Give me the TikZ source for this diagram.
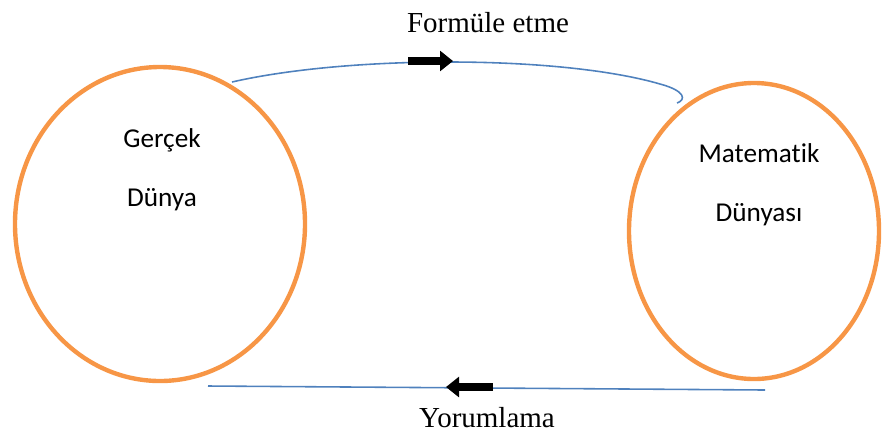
\documentclass[tikz,border=0pt]{standalone}
\usepackage{fontspec}
\setmainfont{Liberation Serif}
\newfontfamily\calibri[Ligatures = NoCommon]{Carlito}
\usepackage{xcolor}
\usepackage{tikz}
\usetikzlibrary{arrows.meta}
\definecolor{worldorange}{HTML}{F79646}
\definecolor{linkblue}{HTML}{4F81BD}

\begin{document}
\begin{tikzpicture}[x = .02cm, y = -.02cm, >=latex]
\tikzset{
  world/.style = {draw = worldorange, line width = 2.5pt},
  link/.style = {draw = linkblue, line width = .9pt},
  blockarrow/.style = {line width = 5pt, -{Triangle[length = 7.4pt, width = 11.3pt]}},
  inside/.style = {font = \calibri\fontsize{15.5}{18}\selectfont},
  outside/.style = {font = \fontsize{16.5}{20}\selectfont}
}
\useasboundingbox (0, 0) rectangle (882, 434);

% top link: real world -> mathematics
\coordinate (f0) at (232, 82);
\coordinate (f1) at (660, 84);
\coordinate (f2) at (677, 103);
\draw [link] (f0) .. controls (350, 55) and (560, 55) .. (f1)
  .. controls (686, 91) and (686, 100) .. (f2);

% bottom link: mathematics -> real world
\coordinate (y0) at (765, 390);
\coordinate (y1) at (208, 386);
\draw [link] (y0) -- (y1);

\draw [world] (160, 224) ellipse [x radius = 145, y radius = 157];
\draw [world] (754, 231) ellipse [x radius = 125, y radius = 148];

\coordinate (fa) at (408, 61);
\coordinate (fb) at (453, 61);
\draw [blockarrow] (fa) -- (fb);
\coordinate (ya) at (493, 387);
\coordinate (yb) at (446, 387);
\draw [blockarrow] (ya) -- (yb);

\node [outside] (formule) at (488, 23) {Formüle etme};
\node [outside] (yorum) at (487, 418) {Yorumlama};

\node [inside] (gercek) at (162, 140) {Gerçek};
\node [inside] (dunya) at (162, 200) {Dünya};
\node [inside] (matematik) at (759, 153) {Matematik};
\node [inside] (dunyasi) at (759, 215) {Dünyası};
\end{tikzpicture}
\end{document}
